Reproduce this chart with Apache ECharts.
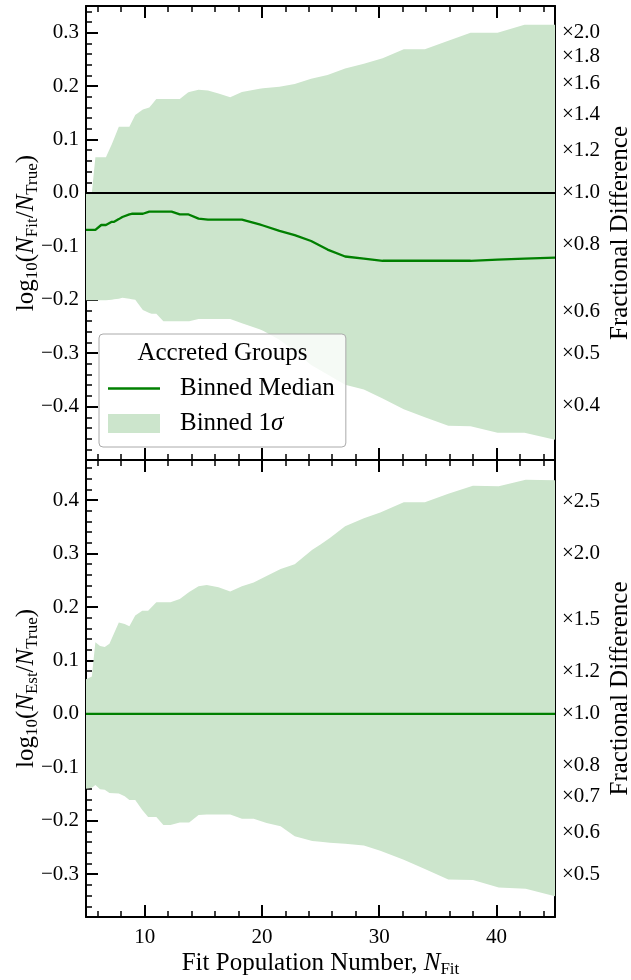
<!DOCTYPE html>
<html><head><meta charset="utf-8">
<script src="https://cdn.jsdelivr.net/npm/echarts@6/dist/echarts.min.js"></script>
<style>html,body{margin:0;padding:0;background:#fff;overflow:hidden}#c{width:631px;height:980px}</style>
</head><body><div id="c"></div><script>
// ---- Top panel (Accreted Groups, N_Fit / N_True) ----
const topX      = [5.0, 5.5, 5.8, 6.3, 6.7, 7.2, 7.4, 7.8, 8.1, 8.7, 8.9, 9.2, 9.85, 10.4, 10.6, 11.0, 11.6, 12.3, 13.0, 13.7, 13.8, 14.6, 15.4, 16.3, 17.3, 18.3, 19.8, 20.1, 21.5, 22.8, 24.2, 25.6, 27.1, 28.7, 30.3, 32.1, 33.9, 35.9, 37.8, 40.1, 42.4, 45.0];
const topUpper  = [0.000, 0.000, 0.067, 0.067, 0.067, 0.091, 0.102, 0.124, 0.124, 0.124, 0.133, 0.146, 0.156, 0.160, 0.165, 0.176, 0.176, 0.176, 0.176, 0.188, 0.189, 0.193, 0.192, 0.186, 0.179, 0.189, 0.195, 0.196, 0.199, 0.204, 0.214, 0.221, 0.233, 0.242, 0.252, 0.269, 0.269, 0.285, 0.300, 0.300, 0.315, 0.315];
const topLower  = [-0.201, -0.201, -0.201, -0.201, -0.201, -0.200, -0.199, -0.198, -0.196, -0.198, -0.199, -0.200, -0.219, -0.225, -0.226, -0.226, -0.240, -0.240, -0.240, -0.240, -0.240, -0.236, -0.236, -0.236, -0.236, -0.244, -0.255, -0.258, -0.275, -0.296, -0.322, -0.340, -0.359, -0.368, -0.385, -0.405, -0.420, -0.436, -0.437, -0.449, -0.449, -0.462];
const topMedian = [-0.069, -0.069, -0.069, -0.060, -0.060, -0.054, -0.054, -0.049, -0.045, -0.040, -0.039, -0.039, -0.039, -0.035, -0.035, -0.035, -0.035, -0.035, -0.040, -0.040, -0.041, -0.048, -0.050, -0.050, -0.050, -0.050, -0.059, -0.061, -0.071, -0.079, -0.090, -0.106, -0.119, -0.123, -0.127, -0.127, -0.127, -0.127, -0.127, -0.125, -0.123, -0.121];

// ---- Bottom panel (N_Est / N_True) ----
const botX      = [5.0, 5.5, 5.8, 6.2, 6.6, 7.0, 7.8, 8.3, 8.7, 9.2, 9.8, 10.3, 11.0, 11.6, 12.2, 13.0, 13.8, 14.6, 15.3, 16.3, 17.3, 18.3, 19.3, 20.4, 21.6, 22.8, 24.3, 25.0, 25.8, 27.1, 28.7, 30.1, 32.1, 33.9, 35.9, 38.0, 40.2, 42.5, 45.0];
const botUpper  = [0.065, 0.070, 0.134, 0.127, 0.125, 0.131, 0.171, 0.168, 0.164, 0.184, 0.193, 0.193, 0.209, 0.209, 0.209, 0.215, 0.228, 0.239, 0.241, 0.237, 0.229, 0.239, 0.246, 0.258, 0.271, 0.280, 0.307, 0.317, 0.329, 0.351, 0.366, 0.377, 0.396, 0.396, 0.412, 0.427, 0.426, 0.438, 0.437];
const botLower  = [-0.140, -0.138, -0.133, -0.141, -0.142, -0.148, -0.149, -0.154, -0.161, -0.161, -0.180, -0.193, -0.193, -0.208, -0.208, -0.203, -0.203, -0.189, -0.188, -0.188, -0.188, -0.196, -0.196, -0.204, -0.210, -0.229, -0.238, -0.239, -0.241, -0.243, -0.246, -0.256, -0.273, -0.290, -0.310, -0.311, -0.325, -0.327, -0.341];
const botMedian = [0, 0, 0, 0, 0, 0, 0, 0, 0, 0, 0, 0, 0, 0, 0, 0, 0, 0, 0, 0, 0, 0, 0, 0, 0, 0, 0, 0, 0, 0, 0, 0, 0, 0, 0, 0, 0, 0, 0];

// ---- Ticks ----
const xMajorTicks   = [10, 20, 30, 40];
const topYTicks     = [-0.4, -0.3, -0.2, -0.1, 0.0, 0.1, 0.2, 0.3];
const botYTicks     = [-0.3, -0.2, -0.1, 0.0, 0.1, 0.2, 0.3, 0.4];
const topFracTicks  = [0.4, 0.5, 0.6, 0.8, 1.0, 1.2, 1.4, 1.6, 1.8, 2.0];
const botFracTicks  = [0.5, 0.6, 0.7, 0.8, 1.0, 1.2, 1.5, 2.0, 2.5];
const topYRange = [-0.5, 0.35];
const botYRange = [-0.38, 0.475];
const xRange = [5, 45];

const FONT = 'Liberation Serif';
const BAND = '#cce5cc', MED = '#008000';

function stepList(a, b, s) { const r = []; for (let v = a; v <= b + 1e-9; v += s) r.push(Math.round(v * 1000) / 1000); return r; }
const xMinorTicks = stepList(6, 44, 2);
const topYMinor = stepList(-0.48, 0.34, 0.02);
const botYMinor = stepList(-0.36, 0.46, 0.02);

function fmtSigned(v) { const s = Math.abs(v).toFixed(1); return v < -1e-9 ? '\u2212' + s : s; }
function fmtFrac(v) { return '\u00d7' + Math.pow(10, v).toFixed(1); }

const richName = {
  n: { fontFamily: FONT, fontSize: 25, color: '#000', lineHeight: 30, verticalAlign: 'middle' },
  i: { fontFamily: FONT, fontSize: 25, color: '#000', fontStyle: 'italic', lineHeight: 30, verticalAlign: 'middle' },
  s: { fontFamily: FONT, fontSize: 17, color: '#000', lineHeight: 14, verticalAlign: 'bottom' }
};

const tickLbl = { color: '#000', fontFamily: FONT, fontSize: 21 };

function xAx(g, pos, ticks, len, w, showLine, label, nameOpt) {
  const a = {
    type: 'value', gridIndex: g, position: pos, min: xRange[0], max: xRange[1],
    axisLine: { show: showLine, onZero: false, lineStyle: { color: '#000', width: 2 } },
    axisTick: { show: true, inside: true, length: len, customValues: ticks, lineStyle: { color: '#000', width: w } },
    axisLabel: Object.assign({ show: label, customValues: ticks, margin: 10 }, tickLbl),
    splitLine: { show: false }
  };
  if (nameOpt) Object.assign(a, nameOpt);
  return a;
}
function yAx(g, pos, range, ticks, len, w, showLine, label, fmt, nameOpt) {
  const a = {
    type: 'value', gridIndex: g, position: pos, min: range[0], max: range[1],
    axisLine: { show: showLine, onZero: false, lineStyle: { color: '#000', width: 2 } },
    axisTick: { show: true, inside: true, length: len, customValues: ticks, lineStyle: { color: '#000', width: w } },
    axisLabel: Object.assign({ show: label, customValues: ticks, margin: 7, formatter: fmt }, tickLbl),
    splitLine: { show: false }
  };
  if (nameOpt) Object.assign(a, nameOpt);
  return a;
}

const leftName = (sub) => ({
  name: '{n|log}{s|10}{n|(}{i|N}{s|' + sub + '}{n|/}{i|N}{s|True}{n|)}',
  nameLocation: 'middle', nameGap: 45, nameMoveOverlap: false,
  nameTextStyle: { fontFamily: FONT, fontSize: 25, color: '#000', rich: richName }
});
const rightName = {
  name: 'Fractional Difference', nameLocation: 'middle', nameGap: 53, nameMoveOverlap: false,
  nameTextStyle: { fontFamily: FONT, fontSize: 25, color: '#000' }
};
const xName = {
  name: '{n|Fit Population Number, }{i|N}{s|Fit}', nameLocation: 'middle', nameGap: 31,
  nameTextStyle: { fontFamily: FONT, fontSize: 25, color: '#000', rich: richName }
};

const xAxis = [];
const yAxis = [];
[0, 1].forEach(g => {
  xAxis.push(xAx(g, 'bottom', xMajorTicks, 12, 2, true, g === 1, g === 1 ? xName : null));
  xAxis.push(xAx(g, 'bottom', xMinorTicks, 6, 1.5, false, false));
  xAxis.push(xAx(g, 'top', xMajorTicks, 12, 2, true, false));
  xAxis.push(xAx(g, 'top', xMinorTicks, 6, 1.5, false, false));
});
yAxis.push(yAx(0, 'left', topYRange, topYTicks, 12, 2, true, true, fmtSigned, leftName('Fit')));
yAxis.push(yAx(0, 'left', topYRange, topYMinor, 6, 1.5, false, false));
yAxis.push(yAx(0, 'right', topYRange, topFracTicks.map(Math.log10), 12, 2, true, true, fmtFrac, rightName));
yAxis.push(yAx(1, 'left', botYRange, botYTicks, 12, 2, true, true, fmtSigned, leftName('Est')));
yAxis.push(yAx(1, 'left', botYRange, botYMinor, 6, 1.5, false, false));
yAxis.push(yAx(1, 'right', botYRange, botFracTicks.map(Math.log10), 12, 2, true, true, fmtFrac, rightName));

function panelSeries(g, xs, lo, up, md, zeroLine) {
  const xi = g * 4, yi = g * 3;
  return [
    { type: 'custom', name: 'Binned 1\u03c3', xAxisIndex: xi, yAxisIndex: yi, silent: true, z: 2,
      color: BAND, itemStyle: { color: BAND },
      data: xs.map((x, i) => [x, lo[i], up[i]]),
      encode: { x: 0, y: [1, 2] },
      renderItem: (params, api) => {
        if (params.dataIndex !== 0) return null;
        const pts = [];
        for (let i = 0; i < xs.length; i++) pts.push(api.coord([xs[i], up[i]]));
        for (let i = xs.length - 1; i >= 0; i--) pts.push(api.coord([xs[i], lo[i]]));
        return { type: 'polygon', shape: { points: pts }, style: { fill: BAND } };
      }
    },
    { type: 'line', name: 'Binned Median', xAxisIndex: xi, yAxisIndex: yi,
      data: xs.map((x, i) => [x, md[i]]), symbol: 'none', silent: true, color: MED,
      itemStyle: { color: MED }, lineStyle: { color: MED, width: 2.3 }, z: 4,
      markLine: zeroLine ? { silent: true, symbol: 'none', label: { show: false },
        lineStyle: { color: '#000', width: 1.8, type: 'solid' }, data: [{ yAxis: 0 }] } : undefined }
  ];
}

const option = {
  animation: false,
  backgroundColor: '#fff',
  grid: [
    { left: 86, right: 76, top: 6, height: 454, containLabel: false, outerBoundsMode: 'none' },
    { left: 86, right: 76, top: 460, height: 457, containLabel: false, outerBoundsMode: 'none' }
  ],
  xAxis, yAxis,
  series: [].concat(
    panelSeries(0, topX, topLower, topUpper, topMedian, true),
    panelSeries(1, botX, botLower, botUpper, botMedian, false)
  ),
  legend: {
    left: 99, top: 334, orient: 'vertical', selectedMode: false,
    padding: [42, 11, 11, 9], itemGap: 10, itemWidth: 52, itemHeight: 19,
    backgroundColor: 'rgba(255,255,255,0.8)', borderColor: '#aaaaaa', borderWidth: 1, borderRadius: 4,
    data: [
      { name: 'Binned Median', icon: 'path://M0,0L52,0L52,2.3L0,2.3Z', itemStyle: { color: MED } },
      { name: 'Binned 1\u03c3', icon: 'rect', itemStyle: { color: BAND } }
    ],
    formatter: name => name === 'Binned 1\u03c3' ? '{p|Binned 1}{i|\u03c3}' : '{p|' + name + '}',
    textStyle: {
      fontFamily: FONT, fontSize: 25, color: '#000',
      rich: {
        p: { fontFamily: FONT, fontSize: 25, color: '#000', padding: [0, 0, 0, 15] },
        i: { fontFamily: FONT, fontSize: 25, color: '#000', fontStyle: 'italic' }
      }
    },
    z: 10
  },
  graphic: {
    elements: [{
      type: 'text', x: 222.5, y: 353, z: 100, silent: true,
      style: { text: 'Accreted Groups', fill: '#000', font: '25px "Liberation Serif"', align: 'center', verticalAlign: 'middle' }
    }]
  }
};

const chart = echarts.init(document.getElementById('c'), null, { renderer: 'canvas' });
chart.setOption(option);
</script></body></html>
